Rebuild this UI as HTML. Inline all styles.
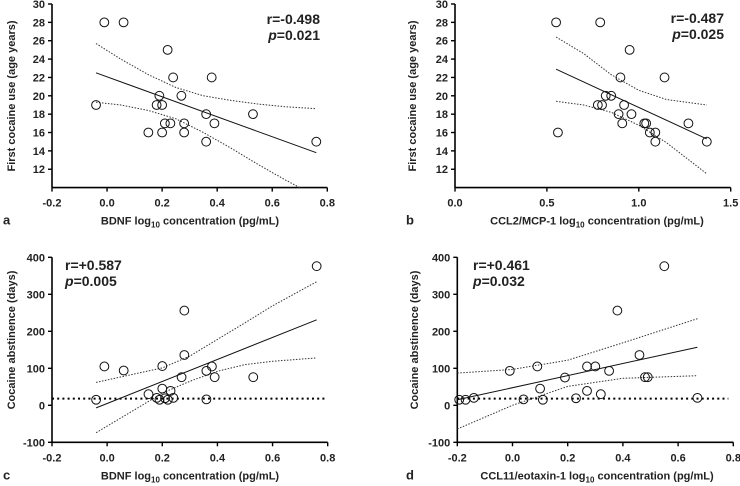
<!DOCTYPE html>
<html><head><meta charset="utf-8"><style>
html,body{margin:0;padding:0;background:#fff}
svg{display:block;font-family:"Liberation Sans",Arial,sans-serif}
</style></head><body>
<svg id="chart" width="740" height="486" viewBox="0 0 740 486"></svg>
<script>
// Panel a data
const aX=[-0.04,-0.01,0.06,0.15,0.18,0.19,0.20,0.20,0.21,0.22,0.23,0.24,0.27,0.28,0.28,0.36,0.36,0.38,0.39,0.53,0.76];
const aY=[19,28,28,16,19,20,19,16,17,25,17,22,20,17,16,18,15,22,17,18,15];
const aFitX=[-0.04,0.76]; const aFitY=[22.5,13.8];
const aUpX=[-0.04,0.05,0.15,0.25,0.35,0.45,0.55,0.65,0.76]; const aUpY=[25.7,24.0,22.3,20.9,20.0,19.5,19.1,18.8,18.6];
const aLoX=[-0.04,0.05,0.15,0.25,0.35,0.45,0.55,0.65,0.70]; const aLoY=[19.3,19.0,18.4,17.5,16.0,14.3,12.5,10.8,10.0];
// Panel b data
const bX=[0.55,0.79,0.95,0.90,1.14,0.82,0.85,0.777,0.80,0.92,0.89,0.96,0.91,1.03,1.04,1.27,0.56,1.06,1.09,1.09,1.37];
const bY=[28,28,25,22,22,20,20,19,19,19,18,18,17,17,17,17,16,16,16,15,15];
const bFitX=[0.55,1.37]; const bFitY=[22.9,15.3];
const bUpX=[0.55,0.7,0.85,1.0,1.15,1.37]; const bUpY=[26.4,24.6,22.3,20.6,19.6,19.0];
const bLoX=[0.55,0.7,0.85,1.0,1.15,1.37]; const bLoY=[19.4,19.0,18.2,16.8,14.9,11.5];
// Panel c data
const cX=[-0.04,-0.01,0.06,0.15,0.18,0.19,0.20,0.20,0.21,0.22,0.23,0.24,0.27,0.28,0.28,0.36,0.36,0.38,0.39,0.53,0.76];
const cY=[15,105,94,30,20,15,45,106,19,15,39,20,76,256,136,93,16,105,76,76,376];
const cFitX=[-0.04,0.76]; const cFitY=[-7,231];
const cUpX=[-0.04,0.1,0.2,0.3,0.4,0.5,0.6,0.76]; const cUpY=[62,85,101,133,178,223,269,334];
const cLoX=[-0.04,0.1,0.2,0.3,0.4,0.5,0.6,0.76]; const cLoY=[-74,-12,33,65,92,110,119,128];
// Panel d data
const dX=[-0.193,-0.17,-0.14,-0.01,0.04,0.09,0.10,0.11,0.19,0.23,0.27,0.27,0.30,0.32,0.35,0.38,0.46,0.48,0.49,0.55,0.67];
const dY=[15,15,20,93,16,105,45,15,75,19,39,105,105,30,93,256,136,76,76,376,20];
const dFitX=[-0.2,0.67]; const dFitY=[15,157];
const dUpX=[-0.2,0,0.2,0.4,0.67]; const dUpY=[87,97,122,169,234];
const dLoX=[-0.2,0,0.2,0.4,0.67]; const dLoY=[-64,0,51,73,80];
// ticks
const ageTicks=[12,14,16,18,20,22,24,26,28,30];
const absTicks=[400,300,200,100,0,-100];
const bdnfTicks=[-0.2,0.0,0.2,0.4,0.6,0.8];
const ccl2Ticks=[0.0,0.5,1.0,1.5];
const refLine=[18];

const svg=document.getElementById('chart');
const NS='http://www.w3.org/2000/svg';
function mk(tag,attrs,parent){const e=document.createElementNS(NS,tag);for(const k in attrs)e.setAttribute(k,attrs[k]);(parent||svg).appendChild(e);return e;}
function txt(s,attrs,parent){const e=mk('text',attrs,parent);e.textContent=s;return e;}

function panel(P){
  const g=mk('g',{});
  
  
  const sx=v=>P.px0+(v-P.xmin)/(P.xmax-P.xmin)*(P.px1-P.px0);
  const sy=v=>P.py1-(v-P.ymin)/(P.ymax-P.ymin)*(P.py1-P.py0);
  const ya=mk('line',{x1:P.px0,y1:P.py0,x2:P.px0,y2:P.py1,stroke:'#000','stroke-width':1.6},g);
  
  const xa=mk('line',{x1:P.px0,y1:P.py1,x2:P.px1,y2:P.py1,stroke:'#000','stroke-width':1.6},g);
  
  P.yt.forEach(v=>{const y=sy(v);
    mk('line',{x1:P.px0-4,y1:y,x2:P.px0,y2:y,stroke:'#000','stroke-width':1.4},g);
    const t=txt(String(v),{x:P.px0-7,y:y+4,'text-anchor':'end','font-size':11,'font-weight':'bold',fill:'#222'},g);
    });
  P.xt.forEach(v=>{const x=sx(v);
    mk('line',{x1:x,y1:P.py1,x2:x,y2:P.py1+4,stroke:'#000','stroke-width':1.4},g);
    const t=txt(v.toFixed(1),{x:x,y:P.py1+19,'text-anchor':'middle','font-size':11,'font-weight':'bold',fill:'#222'},g);
    });
  const xt=txt(P.xtitle+' log',{x:P.xtx,y:P.py1+37,'text-anchor':'middle','font-size':11,'font-weight':'bold',fill:'#222'},g);
  
  const sub=mk('tspan',{'font-size':8,dy:3},xt);sub.textContent='10';
  const rest=mk('tspan',{dy:-3},xt);rest.textContent=' concentration (pg/mL)';
  const yt=txt(P.ytitle,{x:0,y:0,transform:`translate(${P.ytx},${P.ytc}) rotate(-90)`,'text-anchor':'middle','font-size':11,'font-weight':'bold',fill:'#222'},g);
  
  const lb=txt(P.id,{x:P.lx,y:P.py1+37,'font-size':13,'font-weight':'bold',fill:'#222'},g);
  
  if(P.ref){const r=mk('line',{x1:P.px0,y1:sy(refLine[0]),x2:sx(P.refEnd),y2:sy(refLine[0]),stroke:'#000','stroke-width':2,'stroke-dasharray':'2 3.2'},g);
    }
  const pth=(X,Y)=>X.map((x,i)=>(i?'L':'M')+sx(x).toFixed(1)+','+sy(Y[i]).toFixed(1)).join(' ');
  const up=mk('path',{d:pth(P.upX,P.upY),fill:'none',stroke:'#333','stroke-width':1,'stroke-dasharray':'1.5 1.5'},g);
  
  const lo=mk('path',{d:pth(P.loX,P.loY),fill:'none',stroke:'#333','stroke-width':1,'stroke-dasharray':'1.5 1.5'},g);
  
  const fit=mk('path',{d:pth(P.fitX,P.fitY),fill:'none',stroke:'#111','stroke-width':1},g);
  
  P.X.forEach((x,i)=>{const c=mk('circle',{cx:sx(x),cy:sy(P.Y[i]),r:4.4,fill:'none',stroke:'#111','stroke-width':1},g);
    });
  const s1=txt(P.r,{x:P.sx,y:P.sy,'text-anchor':P.anchor,'font-size':14,'font-weight':'bold',fill:'#222'},g);
  
  const s2=mk('text',{x:P.sx,y:P.sy+16,'text-anchor':P.anchor,'font-size':14,'font-weight':'bold',fill:'#222'},g);
  
  const pi=mk('tspan',{'font-style':'italic'},s2);pi.textContent='p';
  const pv=mk('tspan',{},s2);pv.textContent='='+P.p;
}
const topCfg={py0:4,py1:187.6,ymin:10,ymax:30,yt:ageTicks,ytitle:'First cocaine use (age years)'};
const botCfg={py0:257.3,py1:442.3,ymin:-100,ymax:400,yt:absTicks,ytitle:'Cocaine abstinence (days)',ref:true};
panel(Object.assign({},topCfg,{id:'a',px0:52,px1:327.3,xmin:-0.2,xmax:0.8,xt:bdnfTicks,xtitle:'BDNF',xtx:190,ytx:15,ytc:96,lx:3,
  X:aX,Y:aY,fitX:aFitX,fitY:aFitY,upX:aUpX,upY:aUpY,loX:aLoX,loY:aLoY,r:'r=-0.498',p:'0.021',sx:320,sy:24,anchor:'end'}));
panel(Object.assign({},topCfg,{id:'b',px0:455,px1:730.7,xmin:0,xmax:1.5,xt:ccl2Ticks,xtitle:'CCL2/MCP-1',xtx:597,ytx:416,ytc:96,lx:406,
  X:bX,Y:bY,fitX:bFitX,fitY:bFitY,upX:bUpX,upY:bUpY,loX:bLoX,loY:bLoY,r:'r=-0.487',p:'0.025',sx:724,sy:23,anchor:'end'}));
panel(Object.assign({},botCfg,{id:'c',px0:52,px1:327.7,xmin:-0.2,xmax:0.8,xt:bdnfTicks,xtitle:'BDNF',xtx:190,ytx:15,ytc:340,lx:3,refEnd:0.79,
  X:cX,Y:cY,fitX:cFitX,fitY:cFitY,upX:cUpX,upY:cUpY,loX:cLoX,loY:cLoY,r:'r=+0.587',p:'0.005',sx:65,sy:270,anchor:'start'}));
panel(Object.assign({},botCfg,{id:'d',px0:457.3,px1:733.3,xmin:-0.2,xmax:0.8,xt:bdnfTicks,xtitle:'CCL11/eotaxin-1',xtx:597,ytx:418,ytc:340,lx:406,refEnd:0.782,
  X:dX,Y:dY,fitX:dFitX,fitY:dFitY,upX:dUpX,upY:dUpY,loX:dLoX,loY:dLoY,r:'r=+0.461',p:'0.032',sx:473,sy:270,anchor:'start'}));
</script>
</body></html>
